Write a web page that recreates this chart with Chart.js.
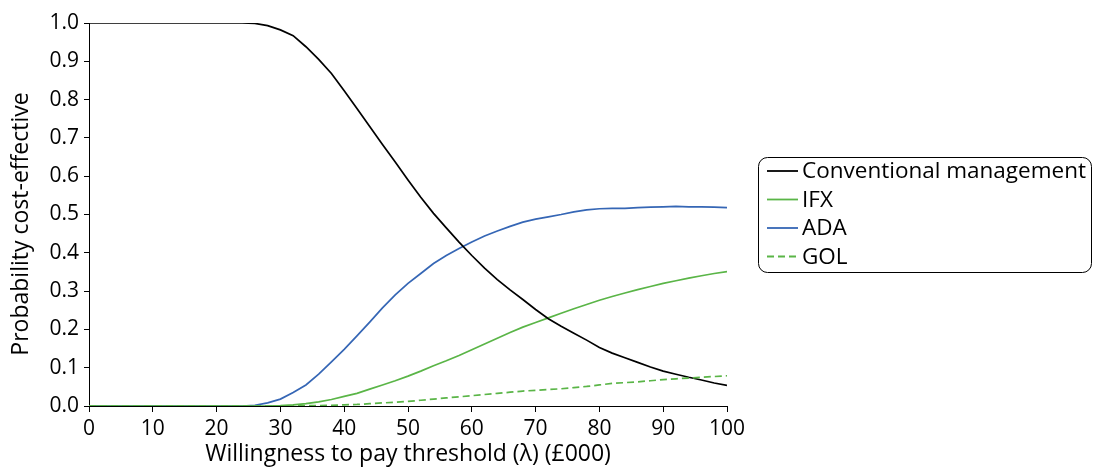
<!DOCTYPE html>
<html><head><meta charset="utf-8">
<script src="https://cdn.jsdelivr.net/npm/chart.js@4.4.0/dist/chart.umd.min.js"></script>
<style>html,body{margin:0;padding:0;background:#fff;}#wrap{width:1094px;height:470px;}</style>
</head><body><div id="wrap"><canvas id="c" width="1094" height="470"></canvas></div>
<script>
const wtp = [0,2,4,6,8,10,12,14,16,18,20,22,24,26,28,30,32,34,36,38,40,42,44,46,48,50,52,54,56,58,60,62,64,66,68,70,72,74,76,78,80,82,84,86,88,90,92,94,96,98,100];
const seriesNames = ['Conventional management','IFX','ADA','GOL'];
const conventional = [1,1,1,1,1,1,1,1,1,1,1,1,1,0.999,0.993,0.982,0.967,0.938,0.905,0.868,0.823,0.777,0.730,0.683,0.637,0.590,0.545,0.503,0.465,0.428,0.393,0.360,0.330,0.303,0.278,0.252,0.228,0.208,0.190,0.172,0.153,0.138,0.126,0.114,0.102,0.091,0.083,0.075,0.068,0.060,0.054];
const ifx = [0,0,0,0,0,0,0,0,0,0,0,0,0,0,0,0.001,0.003,0.006,0.011,0.017,0.025,0.033,0.044,0.055,0.066,0.078,0.091,0.105,0.118,0.132,0.147,0.162,0.177,0.192,0.206,0.218,0.230,0.242,0.254,0.265,0.276,0.286,0.295,0.304,0.312,0.320,0.327,0.334,0.340,0.346,0.351];
const ada = [0,0,0,0,0,0,0,0,0,0,0,0,0,0.002,0.008,0.018,0.035,0.055,0.083,0.115,0.148,0.183,0.219,0.256,0.290,0.320,0.346,0.372,0.393,0.411,0.428,0.444,0.457,0.469,0.480,0.488,0.494,0.500,0.507,0.512,0.515,0.516,0.516,0.518,0.519,0.520,0.521,0.520,0.520,0.519,0.518];
const gol = [0,0,0,0,0,0,0,0,0,0,0,0,0,0,0,0,0,0.001,0.001,0.002,0.003,0.004,0.006,0.008,0.010,0.012,0.015,0.018,0.021,0.024,0.027,0.030,0.033,0.036,0.039,0.041,0.043,0.045,0.048,0.051,0.055,0.059,0.061,0.063,0.066,0.069,0.071,0.073,0.075,0.077,0.079];
const xTitle = 'Willingness to pay threshold (\u03bb) (\u00a3000)';
const yTitle = 'Probability cost-effective';

const FONT = '"Open Sans", "Noto Sans", sans-serif';
const pts = arr => wtp.map((x,i)=>({x:x, y:arr[i]}));
const colors = ['#000000','#5ab547','#3566b5','#5ab547'];
const dashes = [[],[],[],[7,4]];
const values = [conventional, ifx, ada, gol];
const orders = [1,1,1,0];

const legendPlugin = {
  id: 'boxLegend',
  afterDraw(chart) {
    const ctx = chart.ctx;
    ctx.save();
    // y-axis title
    ctx.save();
    ctx.translate(21, 224);
    ctx.rotate(-Math.PI / 2);
    ctx.font = '23px ' + FONT;
    ctx.fillStyle = '#000';
    ctx.textAlign = 'center';
    ctx.textBaseline = 'middle';
    ctx.fillText(yTitle, 0, 0);
    ctx.restore();
    // legend box
    ctx.beginPath();
    ctx.roundRect(758.5, 157.5, 333, 115, 9);
    ctx.strokeStyle = '#000'; ctx.lineWidth = 1; ctx.setLineDash([]);
    ctx.stroke();
    ctx.font = '22.5px ' + FONT;
    ctx.textBaseline = 'middle';
    ctx.textAlign = 'left';
    seriesNames.forEach((name, i) => {
      const y = 171 + i * 28.5;
      ctx.beginPath();
      ctx.setLineDash(dashes[i]);
      ctx.strokeStyle = colors[i];
      ctx.lineWidth = 1.8;
      ctx.moveTo(767, y); ctx.lineTo(798, y);
      ctx.stroke();
      ctx.setLineDash([]);
      ctx.fillStyle = '#000';
      ctx.fillText(name, 802, y + 1);
    });
    ctx.restore();
  }
};

new Chart(document.getElementById('c'), {
  type: 'line',
  data: {
    datasets: seriesNames.map((n,i)=>({
      label: n, data: pts(values[i]), borderColor: colors[i], backgroundColor: colors[i],
      borderWidth: 1.7, borderDash: dashes[i], pointRadius: 0, tension: 0, fill: false, order: orders[i]
    }))
  },
  options: {
    responsive: false, animation: false,
    layout: { padding: { left: 0, right: 367, top: 23, bottom: 0 } },
    plugins: { legend: { display: false }, tooltip: { enabled: false } },
    scales: {
      x: {
        type: 'linear', min: 0, max: 100,
        ticks: { stepSize: 10, color: '#000', font: { family: FONT, size: 21 }, padding: 4, maxRotation: 0 },
        grid: { display: true, drawOnChartArea: false, drawTicks: true, tickLength: 6, color: '#000', lineWidth: 1 },
        border: { display: true, color: '#000', width: 1 },
        title: { display: true, text: xTitle, color: '#000', font: { family: FONT, size: 23 }, padding: { top: 0, bottom: 2 } },
        afterFit: s => { s.height = 64; }
      },
      y: {
        min: 0, max: 1,
        ticks: { stepSize: 0.1, color: '#000', font: { family: FONT, size: 21 }, padding: 5, callback: v => Number(v).toFixed(1) },
        grid: { display: true, drawOnChartArea: false, drawTicks: true, tickLength: 5, color: '#000', lineWidth: 1 },
        border: { display: true, color: '#000', width: 1 },
        title: { display: false },
        afterFit: s => { s.width = 89; }
      }
    }
  },
  plugins: [legendPlugin]
});
</script>
</body></html>
